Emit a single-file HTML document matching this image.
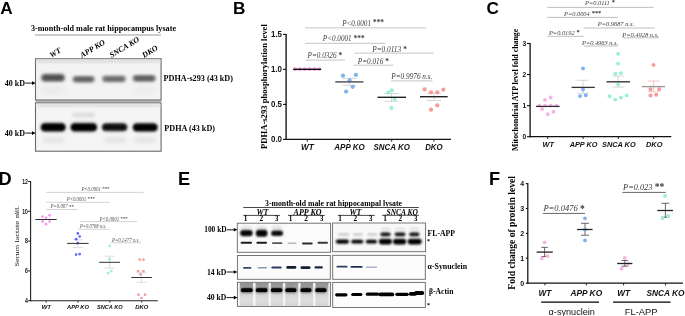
<!DOCTYPE html>
<html><head><meta charset="utf-8"><style>
html,body{margin:0;padding:0;background:#fff;}
body{width:685px;height:316px;overflow:hidden;font-family:"Liberation Sans", sans-serif;}
svg{display:block;will-change:transform;}
</style></head><body>
<svg width="685" height="316" viewBox="0 0 685 316">
<defs><filter id="b1" x="-50%" y="-100%" width="200%" height="300%"><feGaussianBlur stdDeviation="0.1"/></filter><filter id="b2" x="-50%" y="-100%" width="200%" height="300%"><feGaussianBlur stdDeviation="0.2"/></filter><filter id="b3" x="-50%" y="-100%" width="200%" height="300%"><feGaussianBlur stdDeviation="0.3"/></filter><filter id="b4" x="-50%" y="-100%" width="200%" height="300%"><feGaussianBlur stdDeviation="0.4"/></filter><filter id="b5" x="-50%" y="-100%" width="200%" height="300%"><feGaussianBlur stdDeviation="0.5"/></filter><filter id="b6" x="-50%" y="-100%" width="200%" height="300%"><feGaussianBlur stdDeviation="0.6"/></filter><filter id="b7" x="-50%" y="-100%" width="200%" height="300%"><feGaussianBlur stdDeviation="0.7"/></filter><filter id="b8" x="-50%" y="-100%" width="200%" height="300%"><feGaussianBlur stdDeviation="0.8"/></filter><filter id="b9" x="-50%" y="-100%" width="200%" height="300%"><feGaussianBlur stdDeviation="0.9"/></filter><filter id="b10" x="-50%" y="-100%" width="200%" height="300%"><feGaussianBlur stdDeviation="1.0"/></filter><filter id="b11" x="-50%" y="-100%" width="200%" height="300%"><feGaussianBlur stdDeviation="1.1"/></filter><filter id="b12" x="-50%" y="-100%" width="200%" height="300%"><feGaussianBlur stdDeviation="1.2"/></filter><filter id="b13" x="-50%" y="-100%" width="200%" height="300%"><feGaussianBlur stdDeviation="1.3"/></filter><filter id="b14" x="-50%" y="-100%" width="200%" height="300%"><feGaussianBlur stdDeviation="1.4"/></filter><filter id="b15" x="-50%" y="-100%" width="200%" height="300%"><feGaussianBlur stdDeviation="1.5"/></filter><filter id="b16" x="-50%" y="-100%" width="200%" height="300%"><feGaussianBlur stdDeviation="1.6"/></filter><filter id="b17" x="-50%" y="-100%" width="200%" height="300%"><feGaussianBlur stdDeviation="1.7"/></filter><filter id="b18" x="-50%" y="-100%" width="200%" height="300%"><feGaussianBlur stdDeviation="1.8"/></filter><filter id="b19" x="-50%" y="-100%" width="200%" height="300%"><feGaussianBlur stdDeviation="1.9"/></filter><filter id="b20" x="-50%" y="-100%" width="200%" height="300%"><feGaussianBlur stdDeviation="2.0"/></filter><filter id="b21" x="-50%" y="-100%" width="200%" height="300%"><feGaussianBlur stdDeviation="2.1"/></filter><filter id="b22" x="-50%" y="-100%" width="200%" height="300%"><feGaussianBlur stdDeviation="2.2"/></filter><filter id="b23" x="-50%" y="-100%" width="200%" height="300%"><feGaussianBlur stdDeviation="2.3"/></filter><filter id="b24" x="-50%" y="-100%" width="200%" height="300%"><feGaussianBlur stdDeviation="2.4"/></filter><filter id="b25" x="-50%" y="-100%" width="200%" height="300%"><feGaussianBlur stdDeviation="2.5"/></filter><filter id="b26" x="-50%" y="-100%" width="200%" height="300%"><feGaussianBlur stdDeviation="2.6"/></filter><filter id="b27" x="-50%" y="-100%" width="200%" height="300%"><feGaussianBlur stdDeviation="2.7"/></filter><filter id="b28" x="-50%" y="-100%" width="200%" height="300%"><feGaussianBlur stdDeviation="2.8"/></filter><filter id="b29" x="-50%" y="-100%" width="200%" height="300%"><feGaussianBlur stdDeviation="2.9"/></filter><filter id="b30" x="-50%" y="-100%" width="200%" height="300%"><feGaussianBlur stdDeviation="3.0"/></filter><filter id="b31" x="-50%" y="-100%" width="200%" height="300%"><feGaussianBlur stdDeviation="3.1"/></filter><filter id="b32" x="-50%" y="-100%" width="200%" height="300%"><feGaussianBlur stdDeviation="3.2"/></filter><filter id="b33" x="-50%" y="-100%" width="200%" height="300%"><feGaussianBlur stdDeviation="3.3"/></filter><filter id="b34" x="-50%" y="-100%" width="200%" height="300%"><feGaussianBlur stdDeviation="3.4"/></filter><filter id="b35" x="-50%" y="-100%" width="200%" height="300%"><feGaussianBlur stdDeviation="3.5"/></filter><filter id="b36" x="-50%" y="-100%" width="200%" height="300%"><feGaussianBlur stdDeviation="3.6"/></filter><filter id="b37" x="-50%" y="-100%" width="200%" height="300%"><feGaussianBlur stdDeviation="3.7"/></filter><filter id="b38" x="-50%" y="-100%" width="200%" height="300%"><feGaussianBlur stdDeviation="3.8"/></filter><filter id="b39" x="-50%" y="-100%" width="200%" height="300%"><feGaussianBlur stdDeviation="3.9"/></filter></defs>
<rect width="685" height="316" fill="#fff"/>
<text x="0.17" y="13.5" font-family='"Liberation Sans", sans-serif' font-weight="bold" font-style="normal" font-size="17.2" fill="#000" >A</text>
<text x="31" y="30.8" font-family='"Liberation Serif", serif' font-weight="bold" font-style="normal" font-size="8.2" fill="#000" textLength="145" lengthAdjust="spacingAndGlyphs" >3-month-old male rat hippocampus lysate</text>
<line x1="35" y1="35" x2="161" y2="35" stroke="#999" stroke-width="1.2" />
<text transform="translate(51.4,57.9) rotate(-31)" font-family='"Liberation Serif", serif' font-weight="bold" font-style="italic" font-size="7.9" fill="#000" >WT</text>
<text transform="translate(82.0,57.9) rotate(-31)" font-family='"Liberation Serif", serif' font-weight="bold" font-style="italic" font-size="7.9" fill="#000" >APP KO</text>
<text transform="translate(111.4,57.9) rotate(-31)" font-family='"Liberation Serif", serif' font-weight="bold" font-style="italic" font-size="7.9" fill="#000" >SNCA KO</text>
<text transform="translate(144.0,57.9) rotate(-31)" font-family='"Liberation Serif", serif' font-weight="bold" font-style="italic" font-size="7.9" fill="#000" >DKO</text>
<rect x="35.5" y="100.2" width="125.6" height="2.6" fill="#b4b4b4"/>
<rect x="35.5" y="58.7" width="125.6" height="41.3" fill="#f3f3f3" stroke="#6a6a6a" stroke-width="1.1" />
<rect x="35.5" y="102.9" width="125.6" height="48.3" fill="#f5f5f5" stroke="#6a6a6a" stroke-width="1.1" />
<rect x="36.5" y="59.7" width="123.6" height="3" fill="#dcdcdc" filter="url(#b10)"/>
<rect x="36.5" y="103.9" width="123.6" height="3" fill="#dedede" filter="url(#b10)"/>
<rect x="41.0" y="73.8" width="24.0" height="8.0" rx="4.0" fill="#8a8a8a" filter="url(#b16)"/>
<rect x="42.5" y="75.3" width="21.0" height="5.0" rx="2.5" fill="#4a4a4a" filter="url(#b15)"/>
<rect x="72.5" y="76.0" width="22.200000000000003" height="6.6" rx="3.3" fill="#999" filter="url(#b16)"/>
<rect x="74.0" y="77.3" width="19.200000000000003" height="4.0" rx="2.0" fill="#5a5a5a" filter="url(#b15)"/>
<rect x="102.0" y="75.60000000000001" width="24.0" height="6.6" rx="3.3" fill="#a0a0a0" filter="url(#b16)"/>
<rect x="103.5" y="76.9" width="21.0" height="4.0" rx="2.0" fill="#636363" filter="url(#b15)"/>
<rect x="132.6" y="74.89999999999999" width="23.200000000000017" height="6.8" rx="3.4" fill="#959595" filter="url(#b16)"/>
<rect x="134.0" y="76.2" width="20.400000000000006" height="4.2" rx="2.1" fill="#585858" filter="url(#b15)"/>
<rect x="42" y="86.0" width="22" height="8" rx="4.0" fill="#eaeaea" filter="url(#b25)"/>
<rect x="134" y="86.0" width="22" height="8" rx="4.0" fill="#ececec" filter="url(#b25)"/>
<rect x="40.6" y="122.7" width="25.199999999999996" height="9.0" rx="4.5" fill="#505050" filter="url(#b15)"/>
<rect x="41.6" y="124.0" width="23.199999999999996" height="6.4" rx="3.2" fill="#000" filter="url(#b10)"/>
<rect x="70.4" y="122.7" width="26.799999999999997" height="9.0" rx="4.5" fill="#505050" filter="url(#b15)"/>
<rect x="71.4" y="124.0" width="24.799999999999997" height="6.4" rx="3.2" fill="#000" filter="url(#b10)"/>
<rect x="101.8" y="123.0" width="25.60000000000001" height="8.4" rx="4.2" fill="#606060" filter="url(#b15)"/>
<rect x="102.8" y="124.3" width="23.60000000000001" height="5.8" rx="2.9" fill="#080808" filter="url(#b10)"/>
<rect x="132.6" y="123.0" width="25.200000000000017" height="8.8" rx="4.4" fill="#505050" filter="url(#b15)"/>
<rect x="133.6" y="124.30000000000001" width="23.200000000000017" height="6.2" rx="3.1" fill="#000" filter="url(#b10)"/>
<rect x="72" y="112.5" width="23" height="5" rx="2.5" fill="#dedede" filter="url(#b18)"/>
<rect x="42" y="137.5" width="22" height="5" rx="2.5" fill="#e2e2e2" filter="url(#b20)"/>
<rect x="104" y="137.5" width="22" height="5" rx="2.5" fill="#e0e0e0" filter="url(#b20)"/>
<rect x="134" y="137.5" width="22" height="5" rx="2.5" fill="#e0e0e0" filter="url(#b20)"/>
<text x="4.7" y="85.9" font-family='"Liberation Serif", serif' font-weight="bold" font-style="normal" font-size="7.8" fill="#000" textLength="20.3" lengthAdjust="spacingAndGlyphs" >40 kD</text>
<line x1="25.3" y1="83.1" x2="33" y2="83.1" stroke="#000" stroke-width="0.9" />
<path d="M32,81.2 L35.6,83.1 L32,85 Z" fill="#000"/>
<text x="4.7" y="135.8" font-family='"Liberation Serif", serif' font-weight="bold" font-style="normal" font-size="7.8" fill="#000" textLength="20.3" lengthAdjust="spacingAndGlyphs" >40 kD</text>
<line x1="25.3" y1="133.1" x2="33" y2="133.1" stroke="#000" stroke-width="0.9" />
<path d="M32,131.2 L35.6,133.1 L32,135 Z" fill="#000"/>
<text x="163.6" y="81.4" font-family='"Liberation Serif", serif' font-weight="bold" font-style="normal" font-size="8.1" fill="#000" textLength="69.4" lengthAdjust="spacingAndGlyphs" >PDHA-s293 (43 kD)</text>
<text x="164.3" y="131.1" font-family='"Liberation Serif", serif' font-weight="bold" font-style="normal" font-size="8.1" fill="#000" textLength="50.7" lengthAdjust="spacingAndGlyphs" >PDHA (43 kD)</text>
<text x="233.05" y="13.5" font-family='"Liberation Sans", sans-serif' font-weight="bold" font-style="normal" font-size="17.2" fill="#000" >B</text>
<text transform="translate(266.8,149) rotate(-90)" font-family='"Liberation Serif", serif' font-weight="bold" font-style="normal" font-size="8.4" fill="#000" textLength="124.8" lengthAdjust="spacingAndGlyphs" >PDHA-s293 phosphorylation level</text>
<line x1="286.1" y1="33.900000000000006" x2="286.1" y2="140.0" stroke="#111" stroke-width="1.35" />
<line x1="285.5" y1="139.4" x2="451" y2="139.4" stroke="#111" stroke-width="1.35" />
<line x1="283" y1="34.400000000000006" x2="286.1" y2="34.400000000000006" stroke="#111" stroke-width="1.1" />
<text x="282.0" y="37.400000000000006" font-family='"Liberation Sans", sans-serif' font-weight="bold" font-style="normal" font-size="8.9" fill="#111" textLength="11.0" lengthAdjust="spacingAndGlyphs" text-anchor="end" >1.5</text>
<line x1="283" y1="69.4" x2="286.1" y2="69.4" stroke="#111" stroke-width="1.1" />
<text x="282.0" y="72.4" font-family='"Liberation Sans", sans-serif' font-weight="bold" font-style="normal" font-size="8.9" fill="#111" textLength="11.0" lengthAdjust="spacingAndGlyphs" text-anchor="end" >1.0</text>
<line x1="283" y1="104.4" x2="286.1" y2="104.4" stroke="#111" stroke-width="1.1" />
<text x="282.0" y="107.4" font-family='"Liberation Sans", sans-serif' font-weight="bold" font-style="normal" font-size="8.9" fill="#111" textLength="11.0" lengthAdjust="spacingAndGlyphs" text-anchor="end" >0.5</text>
<line x1="283" y1="139.4" x2="286.1" y2="139.4" stroke="#111" stroke-width="1.1" />
<text x="282.0" y="142.4" font-family='"Liberation Sans", sans-serif' font-weight="bold" font-style="normal" font-size="8.9" fill="#111" textLength="11.0" lengthAdjust="spacingAndGlyphs" text-anchor="end" >0.0</text>
<line x1="307.3" y1="139.4" x2="307.3" y2="141.70000000000002" stroke="#222" stroke-width="1" />
<line x1="349.5" y1="139.4" x2="349.5" y2="141.70000000000002" stroke="#222" stroke-width="1" />
<line x1="391.7" y1="139.4" x2="391.7" y2="141.70000000000002" stroke="#222" stroke-width="1" />
<line x1="433.9" y1="139.4" x2="433.9" y2="141.70000000000002" stroke="#222" stroke-width="1" />
<text x="307.3" y="150.3" font-family='"Liberation Sans", sans-serif' font-weight="bold" font-style="italic" font-size="8.4" fill="#111" textLength="12.7" lengthAdjust="spacingAndGlyphs" text-anchor="middle" >WT</text>
<text x="349.5" y="150.3" font-family='"Liberation Sans", sans-serif' font-weight="bold" font-style="italic" font-size="8.4" fill="#111" textLength="30.4" lengthAdjust="spacingAndGlyphs" text-anchor="middle" >APP KO</text>
<text x="391.7" y="150.3" font-family='"Liberation Sans", sans-serif' font-weight="bold" font-style="italic" font-size="8.4" fill="#111" textLength="36.3" lengthAdjust="spacingAndGlyphs" text-anchor="middle" >SNCA KO</text>
<text x="433.9" y="150.3" font-family='"Liberation Sans", sans-serif' font-weight="bold" font-style="italic" font-size="8.4" fill="#111" textLength="17.4" lengthAdjust="spacingAndGlyphs" text-anchor="middle" >DKO</text>
<line x1="305.2" y1="27.9" x2="426.2" y2="27.9" stroke="#c4c4c4" stroke-width="1" />
<text x="342.2" y="25.6" font-family='"Liberation Serif", serif' font-style="italic" font-size="7.3" fill="#3a3a3a"><tspan textLength="28.8" lengthAdjust="spacingAndGlyphs">P&lt;0.0001</tspan><tspan dx="2" dy="-0.3" font-style="normal" font-weight="bold" font-size="7.3" fill="#333">***</tspan></text>
<line x1="305.2" y1="43.3" x2="385.3" y2="43.3" stroke="#c4c4c4" stroke-width="1" />
<text x="322.8" y="40.8" font-family='"Liberation Serif", serif' font-style="italic" font-size="7.3" fill="#3a3a3a"><tspan textLength="28.8" lengthAdjust="spacingAndGlyphs">P&lt;0.0001</tspan><tspan dx="2" dy="-0.3" font-style="normal" font-weight="bold" font-size="7.3" fill="#333">***</tspan></text>
<line x1="305.2" y1="60.1" x2="344.9" y2="60.1" stroke="#c4c4c4" stroke-width="1" />
<text x="307.5" y="58.2" font-family='"Liberation Serif", serif' font-style="italic" font-size="7.3" fill="#3a3a3a"><tspan textLength="29" lengthAdjust="spacingAndGlyphs">P=0.0326</tspan><tspan dx="2" dy="-0.3" font-style="normal" font-weight="bold" font-size="7.3" fill="#333">*</tspan></text>
<line x1="354.3" y1="53.1" x2="433.7" y2="53.1" stroke="#c4c4c4" stroke-width="1" />
<text x="372.2" y="51.9" font-family='"Liberation Serif", serif' font-style="italic" font-size="7.3" fill="#3a3a3a"><tspan textLength="29" lengthAdjust="spacingAndGlyphs">P=0.0113</tspan><tspan dx="2" dy="-0.3" font-style="normal" font-weight="bold" font-size="7.3" fill="#333">*</tspan></text>
<line x1="353.6" y1="65.2" x2="393.3" y2="65.2" stroke="#c4c4c4" stroke-width="1" />
<text x="357.8" y="64.0" font-family='"Liberation Serif", serif' font-style="italic" font-size="7.3" fill="#3a3a3a"><tspan textLength="25.5" lengthAdjust="spacingAndGlyphs">P=0.016</tspan><tspan dx="2" dy="-0.3" font-style="normal" font-weight="bold" font-size="7.3" fill="#333">*</tspan></text>
<line x1="391.2" y1="80.9" x2="432.5" y2="80.9" stroke="#c4c4c4" stroke-width="1" />
<text x="391.2" y="79.3" font-family='"Liberation Serif", serif' font-style="italic" font-size="7.3" fill="#3a3a3a"><tspan textLength="41.3" lengthAdjust="spacingAndGlyphs">P=0.9976 n.s.</tspan></text>
<circle cx="295.1" cy="69.2" r="2.1" fill="#f7b3e6"/>
<circle cx="299.9" cy="69.2" r="2.1" fill="#f7b3e6"/>
<circle cx="304.7" cy="69.2" r="2.1" fill="#f7b3e6"/>
<circle cx="309.6" cy="69.2" r="2.1" fill="#f7b3e6"/>
<circle cx="314.4" cy="69.2" r="2.1" fill="#f7b3e6"/>
<circle cx="319.2" cy="69.2" r="2.1" fill="#f7b3e6"/>
<line x1="293.2" y1="69.3" x2="321.1" y2="69.3" stroke="#000" stroke-width="1.3" />
<line x1="342.6" y1="78.4" x2="356.5" y2="78.4" stroke="#ccc" stroke-width="0.8" />
<line x1="342.6" y1="85.3" x2="356.5" y2="85.3" stroke="#ccc" stroke-width="0.8" />
<line x1="349.6" y1="78.4" x2="349.6" y2="85.3" stroke="#ccc" stroke-width="0.8" />
<circle cx="343" cy="75.7" r="2.1" fill="#7fb2f2"/>
<circle cx="355.9" cy="74.9" r="2.1" fill="#7fb2f2"/>
<circle cx="349.6" cy="80.3" r="2.1" fill="#7fb2f2"/>
<circle cx="352.7" cy="86.8" r="2.1" fill="#7fb2f2"/>
<circle cx="346.1" cy="91.6" r="2.1" fill="#7fb2f2"/>
<line x1="335.3" y1="81.9" x2="363.5" y2="81.9" stroke="#555" stroke-width="1.5" />
<line x1="384.5" y1="93.5" x2="398.5" y2="93.5" stroke="#ccc" stroke-width="0.8" />
<line x1="384.5" y1="101.3" x2="398.5" y2="101.3" stroke="#ccc" stroke-width="0.8" />
<line x1="391.5" y1="93.5" x2="391.5" y2="101.3" stroke="#ccc" stroke-width="0.8" />
<circle cx="388.2" cy="92.6" r="2.1" fill="#9bf0d2"/>
<circle cx="391.7" cy="90.4" r="2.1" fill="#9bf0d2"/>
<circle cx="394.6" cy="98.9" r="2.1" fill="#9bf0d2"/>
<circle cx="391.4" cy="107.8" r="2.1" fill="#9bf0d2"/>
<line x1="377.5" y1="97.3" x2="406" y2="97.3" stroke="#222" stroke-width="1.4" />
<line x1="427" y1="93.3" x2="441" y2="93.3" stroke="#ccc" stroke-width="0.8" />
<line x1="427" y1="100.4" x2="441" y2="100.4" stroke="#ccc" stroke-width="0.8" />
<line x1="434" y1="93.3" x2="434" y2="100.4" stroke="#ccc" stroke-width="0.8" />
<circle cx="424.6" cy="89.4" r="2.1" fill="#f79a9a"/>
<circle cx="431" cy="92.3" r="2.1" fill="#f79a9a"/>
<circle cx="437.3" cy="92.3" r="2.1" fill="#f79a9a"/>
<circle cx="443.3" cy="89.7" r="2.1" fill="#f79a9a"/>
<circle cx="437.3" cy="105.3" r="2.1" fill="#f79a9a"/>
<circle cx="431" cy="109.7" r="2.1" fill="#f79a9a"/>
<line x1="420" y1="96.7" x2="447.7" y2="96.7" stroke="#222" stroke-width="1.4" />
<text x="486.4" y="13.5" font-family='"Liberation Sans", sans-serif' font-weight="bold" font-style="normal" font-size="17.2" fill="#000" >C</text>
<text transform="translate(518.0,151) rotate(-90)" font-family='"Liberation Serif", serif' font-weight="bold" font-style="normal" font-size="7.9" fill="#000" textLength="122.2" lengthAdjust="spacingAndGlyphs" >Mitochondrial ATP level fold change</text>
<line x1="530.1" y1="42.98999999999998" x2="530.1" y2="137.29999999999998" stroke="#111" stroke-width="1.3" />
<line x1="529.5" y1="136.7" x2="671.3" y2="136.7" stroke="#111" stroke-width="1.3" />
<line x1="527" y1="43.48999999999998" x2="530.1" y2="43.48999999999998" stroke="#111" stroke-width="1.1" />
<text x="526.1" y="46.08999999999998" font-family='"Liberation Sans", sans-serif' font-weight="bold" font-style="normal" font-size="7.5" fill="#111" textLength="3.7" lengthAdjust="spacingAndGlyphs" text-anchor="end" >3</text>
<line x1="527" y1="74.55999999999999" x2="530.1" y2="74.55999999999999" stroke="#111" stroke-width="1.1" />
<text x="526.1" y="77.15999999999998" font-family='"Liberation Sans", sans-serif' font-weight="bold" font-style="normal" font-size="7.5" fill="#111" textLength="3.7" lengthAdjust="spacingAndGlyphs" text-anchor="end" >2</text>
<line x1="527" y1="105.63" x2="530.1" y2="105.63" stroke="#111" stroke-width="1.1" />
<text x="526.1" y="108.22999999999999" font-family='"Liberation Sans", sans-serif' font-weight="bold" font-style="normal" font-size="7.5" fill="#111" textLength="3.7" lengthAdjust="spacingAndGlyphs" text-anchor="end" >1</text>
<line x1="527" y1="136.7" x2="530.1" y2="136.7" stroke="#111" stroke-width="1.1" />
<text x="526.1" y="139.29999999999998" font-family='"Liberation Sans", sans-serif' font-weight="bold" font-style="normal" font-size="7.5" fill="#111" textLength="3.7" lengthAdjust="spacingAndGlyphs" text-anchor="end" >0</text>
<line x1="547.7" y1="136.7" x2="547.7" y2="139.0" stroke="#222" stroke-width="1" />
<line x1="583.1" y1="136.7" x2="583.1" y2="139.0" stroke="#222" stroke-width="1" />
<line x1="618.3" y1="136.7" x2="618.3" y2="139.0" stroke="#222" stroke-width="1" />
<line x1="653.7" y1="136.7" x2="653.7" y2="139.0" stroke="#222" stroke-width="1" />
<text x="548.2" y="147.0" font-family='"Liberation Sans", sans-serif' font-weight="bold" font-style="italic" font-size="6.9" fill="#111" textLength="11.4" lengthAdjust="spacingAndGlyphs" text-anchor="middle" >WT</text>
<text x="583.6" y="147.0" font-family='"Liberation Sans", sans-serif' font-weight="bold" font-style="italic" font-size="6.9" fill="#111" textLength="27.8" lengthAdjust="spacingAndGlyphs" text-anchor="middle" >APP KO</text>
<text x="618.8" y="147.0" font-family='"Liberation Sans", sans-serif' font-weight="bold" font-style="italic" font-size="6.9" fill="#111" textLength="33.6" lengthAdjust="spacingAndGlyphs" text-anchor="middle" >SNCA KO</text>
<text x="654.2" y="147.0" font-family='"Liberation Sans", sans-serif' font-weight="bold" font-style="italic" font-size="6.9" fill="#111" textLength="16.4" lengthAdjust="spacingAndGlyphs" text-anchor="middle" >DKO</text>
<line x1="547.3" y1="7.4" x2="653.8" y2="7.4" stroke="#b8b8b8" stroke-width="0.9" />
<text x="585.1" y="5.0" font-family='"Liberation Serif", serif' font-style="italic" font-size="6.4" fill="#3a3a3a"><tspan textLength="24.7" lengthAdjust="spacingAndGlyphs">P=0.0111</tspan><tspan dx="2" dy="-1.2" font-style="normal" font-weight="bold" font-size="6.4" fill="#333">*</tspan></text>
<line x1="547.3" y1="17.4" x2="618" y2="17.4" stroke="#b8b8b8" stroke-width="0.9" />
<text x="564.1" y="15.9" font-family='"Liberation Serif", serif' font-style="italic" font-size="6.4" fill="#3a3a3a"><tspan textLength="25.6" lengthAdjust="spacingAndGlyphs">P=0.0004</tspan><tspan dx="2" dy="-1.2" font-style="normal" font-weight="bold" font-size="6.4" fill="#333">***</tspan></text>
<line x1="583.8" y1="28.0" x2="654.7" y2="28.0" stroke="#b8b8b8" stroke-width="0.9" />
<text x="597.8" y="26.3" font-family='"Liberation Serif", serif' font-style="italic" font-size="6.4" fill="#3a3a3a"><tspan textLength="36.2" lengthAdjust="spacingAndGlyphs">P=0.9687 n.s.</tspan></text>
<line x1="547.3" y1="36.3" x2="583.8" y2="36.3" stroke="#b8b8b8" stroke-width="0.9" />
<text x="549" y="35.0" font-family='"Liberation Serif", serif' font-style="italic" font-size="6.4" fill="#3a3a3a"><tspan textLength="25.6" lengthAdjust="spacingAndGlyphs">P=0.0192</tspan><tspan dx="2" dy="-1.2" font-style="normal" font-weight="bold" font-size="6.4" fill="#333">*</tspan></text>
<line x1="583.8" y1="46.0" x2="618" y2="46.0" stroke="#b8b8b8" stroke-width="0.9" />
<text x="582" y="44.9" font-family='"Liberation Serif", serif' font-style="italic" font-size="6.4" fill="#3a3a3a"><tspan textLength="36" lengthAdjust="spacingAndGlyphs">P=0.4963 n.s.</tspan></text>
<line x1="622.3" y1="37.8" x2="658.7" y2="37.8" stroke="#b8b8b8" stroke-width="0.9" />
<text x="622.3" y="37.0" font-family='"Liberation Serif", serif' font-style="italic" font-size="6.4" fill="#3a3a3a"><tspan textLength="36.4" lengthAdjust="spacingAndGlyphs">P=0.4928 n.s.</tspan></text>
<circle cx="545" cy="99.9" r="1.95" fill="#f7b3e6"/>
<circle cx="550.7" cy="97.5" r="1.95" fill="#f7b3e6"/>
<circle cx="539.3" cy="105.6" r="1.95" fill="#f7b3e6"/>
<circle cx="545" cy="105.6" r="1.95" fill="#f7b3e6"/>
<circle cx="550.7" cy="105.6" r="1.95" fill="#f7b3e6"/>
<circle cx="556.4" cy="105.6" r="1.95" fill="#f7b3e6"/>
<circle cx="542.1" cy="109" r="1.95" fill="#f7b3e6"/>
<circle cx="553.5" cy="111.7" r="1.95" fill="#f7b3e6"/>
<circle cx="547.8" cy="114.2" r="1.95" fill="#f7b3e6"/>
<line x1="536" y1="106.4" x2="559.6" y2="106.4" stroke="#2a2a2a" stroke-width="1.2" />
<line x1="577.3" y1="80.3" x2="588.7" y2="80.3" stroke="#ccc" stroke-width="0.8" />
<line x1="577.3" y1="93.3" x2="588.7" y2="93.3" stroke="#ccc" stroke-width="0.8" />
<line x1="583" y1="80.3" x2="583" y2="93.3" stroke="#ccc" stroke-width="0.8" />
<circle cx="583" cy="68.4" r="1.95" fill="#7fb2f2"/>
<circle cx="583" cy="89.5" r="1.95" fill="#7fb2f2"/>
<circle cx="580.1" cy="96.1" r="1.95" fill="#7fb2f2"/>
<circle cx="585.8" cy="95.2" r="1.95" fill="#7fb2f2"/>
<line x1="571.6" y1="87.4" x2="594.8" y2="87.4" stroke="#333" stroke-width="1.3" />
<line x1="612.4" y1="76.1" x2="623.8000000000001" y2="76.1" stroke="#ccc" stroke-width="0.8" />
<line x1="612.4" y1="87.1" x2="623.8000000000001" y2="87.1" stroke="#ccc" stroke-width="0.8" />
<line x1="618.1" y1="76.1" x2="618.1" y2="87.1" stroke="#ccc" stroke-width="0.8" />
<circle cx="618.1" cy="53.7" r="1.95" fill="#9bf0d2"/>
<circle cx="618.1" cy="63.6" r="1.95" fill="#9bf0d2"/>
<circle cx="615.3" cy="73.8" r="1.95" fill="#9bf0d2"/>
<circle cx="621" cy="73.1" r="1.95" fill="#9bf0d2"/>
<circle cx="618.1" cy="84.5" r="1.95" fill="#9bf0d2"/>
<circle cx="609.6" cy="96.2" r="1.95" fill="#9bf0d2"/>
<circle cx="621" cy="97.5" r="1.95" fill="#9bf0d2"/>
<circle cx="626.7" cy="95.4" r="1.95" fill="#9bf0d2"/>
<circle cx="615.3" cy="99.6" r="1.95" fill="#9bf0d2"/>
<line x1="606.5" y1="81.8" x2="630" y2="81.8" stroke="#444" stroke-width="1.5" />
<line x1="648.0" y1="81" x2="659.4000000000001" y2="81" stroke="#f3b8b8" stroke-width="0.8" />
<line x1="648.0" y1="91.7" x2="659.4000000000001" y2="91.7" stroke="#f3b8b8" stroke-width="0.8" />
<line x1="653.7" y1="81" x2="653.7" y2="91.7" stroke="#f3b8b8" stroke-width="0.8" />
<circle cx="653.5" cy="64.9" r="1.95" fill="#f79a9a"/>
<circle cx="650.5" cy="89.2" r="1.95" fill="#f79a9a"/>
<circle cx="659.2" cy="89.2" r="1.95" fill="#f79a9a"/>
<circle cx="650.5" cy="95.5" r="1.95" fill="#f79a9a"/>
<circle cx="656.2" cy="94.8" r="1.95" fill="#f79a9a"/>
<line x1="641.7" y1="86.6" x2="665.1" y2="86.6" stroke="#999" stroke-width="1.4" />
<text x="-1.4" y="184.8" font-family='"Liberation Sans", sans-serif' font-weight="bold" font-style="normal" font-size="18.2" fill="#000" >D</text>
<text transform="translate(19.3,266.5) rotate(-90)" font-family='"Liberation Serif", serif' font-weight="normal" font-style="normal" font-size="6.4" fill="#111" textLength="45.5" lengthAdjust="spacingAndGlyphs" >Serum lactate</text>
<text transform="translate(19.3,217.7) rotate(-90)" font-family='"Liberation Serif", serif' font-weight="normal" font-style="normal" font-size="6.4" fill="#111" textLength="11.5" lengthAdjust="spacingAndGlyphs" >mM/L</text>
<line x1="30.6" y1="181.0" x2="30.6" y2="301.2" stroke="#222" stroke-width="1.1" />
<line x1="30.1" y1="300.7" x2="157.8" y2="300.7" stroke="#222" stroke-width="1.1" />
<line x1="28" y1="181.5" x2="30.6" y2="181.5" stroke="#222" stroke-width="1" />
<text x="27.8" y="183.7" font-family='"Liberation Sans", sans-serif' font-weight="bold" font-style="normal" font-size="6.5" fill="#111" textLength="5.6" lengthAdjust="spacingAndGlyphs" text-anchor="end" >12</text>
<line x1="28" y1="211.29999999999998" x2="30.6" y2="211.29999999999998" stroke="#222" stroke-width="1" />
<text x="27.8" y="213.49999999999997" font-family='"Liberation Sans", sans-serif' font-weight="bold" font-style="normal" font-size="6.5" fill="#111" textLength="5.6" lengthAdjust="spacingAndGlyphs" text-anchor="end" >10</text>
<line x1="28" y1="241.1" x2="30.6" y2="241.1" stroke="#222" stroke-width="1" />
<text x="27.8" y="243.29999999999998" font-family='"Liberation Sans", sans-serif' font-weight="bold" font-style="normal" font-size="6.5" fill="#111" textLength="2.9" lengthAdjust="spacingAndGlyphs" text-anchor="end" >8</text>
<line x1="28" y1="270.9" x2="30.6" y2="270.9" stroke="#222" stroke-width="1" />
<text x="27.8" y="273.09999999999997" font-family='"Liberation Sans", sans-serif' font-weight="bold" font-style="normal" font-size="6.5" fill="#111" textLength="2.9" lengthAdjust="spacingAndGlyphs" text-anchor="end" >6</text>
<line x1="28" y1="300.7" x2="30.6" y2="300.7" stroke="#222" stroke-width="1" />
<text x="27.8" y="302.9" font-family='"Liberation Sans", sans-serif' font-weight="bold" font-style="normal" font-size="6.5" fill="#111" textLength="2.9" lengthAdjust="spacingAndGlyphs" text-anchor="end" >4</text>
<line x1="46.2" y1="300.7" x2="46.2" y2="302.7" stroke="#333" stroke-width="0.9" />
<line x1="78.0" y1="300.7" x2="78.0" y2="302.7" stroke="#333" stroke-width="0.9" />
<line x1="109.8" y1="300.7" x2="109.8" y2="302.7" stroke="#333" stroke-width="0.9" />
<line x1="141.7" y1="300.7" x2="141.7" y2="302.7" stroke="#333" stroke-width="0.9" />
<text x="46.2" y="308.6" font-family='"Liberation Sans", sans-serif' font-weight="bold" font-style="italic" font-size="5.7" fill="#111" textLength="9.6" lengthAdjust="spacingAndGlyphs" text-anchor="middle" >WT</text>
<text x="78.0" y="308.6" font-family='"Liberation Sans", sans-serif' font-weight="bold" font-style="italic" font-size="5.7" fill="#111" textLength="21.8" lengthAdjust="spacingAndGlyphs" text-anchor="middle" >APP KO</text>
<text x="109.8" y="308.6" font-family='"Liberation Sans", sans-serif' font-weight="bold" font-style="italic" font-size="5.7" fill="#111" textLength="25.8" lengthAdjust="spacingAndGlyphs" text-anchor="middle" >SNCA KO</text>
<text x="141.7" y="308.6" font-family='"Liberation Sans", sans-serif' font-weight="bold" font-style="italic" font-size="5.7" fill="#111" textLength="13.1" lengthAdjust="spacingAndGlyphs" text-anchor="middle" >DKO</text>
<line x1="46.3" y1="192.4" x2="143.6" y2="192.4" stroke="#c8c8c8" stroke-width="0.8" />
<text x="81.4" y="191.0" font-family='"Liberation Serif", serif' font-style="italic" font-size="5.3" fill="#505050"><tspan textLength="19.5" lengthAdjust="spacingAndGlyphs">P&lt;0.0001</tspan><tspan dx="1.4" dy="-0.7" font-style="normal" font-weight="bold" font-size="4.8" fill="#333">***</tspan></text>
<line x1="46.3" y1="202.3" x2="109.8" y2="202.3" stroke="#c8c8c8" stroke-width="0.8" />
<text x="66.7" y="200.6" font-family='"Liberation Serif", serif' font-style="italic" font-size="5.3" fill="#505050"><tspan textLength="19.5" lengthAdjust="spacingAndGlyphs">P&lt;0.0001</tspan><tspan dx="1.4" dy="-0.7" font-style="normal" font-weight="bold" font-size="4.8" fill="#333">***</tspan></text>
<line x1="46.3" y1="209.5" x2="77.8" y2="209.5" stroke="#c8c8c8" stroke-width="0.8" />
<text x="50.6" y="208.2" font-family='"Liberation Serif", serif' font-style="italic" font-size="5.3" fill="#505050"><tspan textLength="17" lengthAdjust="spacingAndGlyphs">P=0.007</tspan><tspan dx="1.4" dy="-0.7" font-style="normal" font-weight="bold" font-size="4.8" fill="#333">**</tspan></text>
<line x1="80.4" y1="221.6" x2="137" y2="221.6" stroke="#c8c8c8" stroke-width="0.8" />
<text x="99.6" y="220.6" font-family='"Liberation Serif", serif' font-style="italic" font-size="5.3" fill="#505050"><tspan textLength="19.5" lengthAdjust="spacingAndGlyphs">P&lt;0.0001</tspan><tspan dx="1.4" dy="-0.7" font-style="normal" font-weight="bold" font-size="4.8" fill="#333">***</tspan></text>
<line x1="78" y1="229.3" x2="109.9" y2="229.3" stroke="#c8c8c8" stroke-width="0.8" />
<text x="80" y="228.0" font-family='"Liberation Serif", serif' font-style="italic" font-size="5.3" fill="#505050"><tspan textLength="26.2" lengthAdjust="spacingAndGlyphs">P=0.0768 n.s.</tspan></text>
<line x1="110.6" y1="242.8" x2="141" y2="242.8" stroke="#c8c8c8" stroke-width="0.8" />
<text x="111.9" y="241.9" font-family='"Liberation Serif", serif' font-style="italic" font-size="5.3" fill="#505050"><tspan textLength="27.8" lengthAdjust="spacingAndGlyphs">P=0.1477 n.s.</tspan></text>
<circle cx="42.5" cy="216.5" r="1.35" fill="#f59af0"/>
<circle cx="49.6" cy="215.3" r="1.35" fill="#f59af0"/>
<circle cx="46" cy="217.8" r="1.35" fill="#f59af0"/>
<circle cx="42.5" cy="221.4" r="1.35" fill="#f59af0"/>
<circle cx="49.6" cy="221.4" r="1.35" fill="#f59af0"/>
<circle cx="46" cy="224.2" r="1.35" fill="#f59af0"/>
<line x1="35.4" y1="219.5" x2="56.7" y2="219.5" stroke="#333" stroke-width="1" />
<line x1="72.6" y1="239.7" x2="83.0" y2="239.7" stroke="#d8d8d8" stroke-width="0.7" />
<line x1="72.6" y1="247.5" x2="83.0" y2="247.5" stroke="#d8d8d8" stroke-width="0.7" />
<line x1="77.8" y1="239.7" x2="77.8" y2="247.5" stroke="#d8d8d8" stroke-width="0.7" />
<circle cx="77.8" cy="233.4" r="1.35" fill="#6464f5"/>
<circle cx="79.7" cy="236.5" r="1.35" fill="#6464f5"/>
<circle cx="76.1" cy="239.2" r="1.35" fill="#6464f5"/>
<circle cx="77.8" cy="243.2" r="1.35" fill="#6464f5"/>
<circle cx="76.1" cy="254.6" r="1.35" fill="#6464f5"/>
<circle cx="79.7" cy="254.1" r="1.35" fill="#6464f5"/>
<line x1="67.1" y1="243.4" x2="88.6" y2="243.4" stroke="#333" stroke-width="1" />
<line x1="104.39999999999999" y1="256.2" x2="114.8" y2="256.2" stroke="#d0d0d0" stroke-width="0.7" />
<line x1="104.39999999999999" y1="268.1" x2="114.8" y2="268.1" stroke="#d0d0d0" stroke-width="0.7" />
<line x1="109.6" y1="256.2" x2="109.6" y2="268.1" stroke="#d0d0d0" stroke-width="0.7" />
<circle cx="109.6" cy="245.8" r="1.35" fill="#9bf0d2"/>
<circle cx="109.6" cy="259.2" r="1.35" fill="#9bf0d2"/>
<circle cx="111.4" cy="271.1" r="1.35" fill="#9bf0d2"/>
<circle cx="108.1" cy="273.2" r="1.35" fill="#9bf0d2"/>
<line x1="99.2" y1="262.3" x2="120" y2="262.3" stroke="#333" stroke-width="1" />
<line x1="136.4" y1="272.7" x2="146.79999999999998" y2="272.7" stroke="#d0d0d0" stroke-width="0.7" />
<line x1="136.4" y1="282.3" x2="146.79999999999998" y2="282.3" stroke="#d0d0d0" stroke-width="0.7" />
<line x1="141.6" y1="272.7" x2="141.6" y2="282.3" stroke="#d0d0d0" stroke-width="0.7" />
<circle cx="139.7" cy="259.7" r="1.35" fill="#f79a9a"/>
<circle cx="143.5" cy="259.7" r="1.35" fill="#f79a9a"/>
<circle cx="138" cy="271.1" r="1.35" fill="#f79a9a"/>
<circle cx="143.5" cy="271.1" r="1.35" fill="#f79a9a"/>
<circle cx="140.5" cy="274.4" r="1.35" fill="#f79a9a"/>
<circle cx="138.5" cy="294.7" r="1.35" fill="#f79a9a"/>
<circle cx="145" cy="294.7" r="1.35" fill="#f79a9a"/>
<circle cx="141.5" cy="298" r="1.35" fill="#f79a9a"/>
<line x1="131.4" y1="277.5" x2="151.9" y2="277.5" stroke="#333" stroke-width="1" />
<text x="178.0" y="184.8" font-family='"Liberation Sans", sans-serif' font-weight="bold" font-style="normal" font-size="18.2" fill="#000" >E</text>
<text x="265" y="205.5" font-family='"Liberation Serif", serif' font-weight="bold" font-style="normal" font-size="7.9" fill="#000" textLength="137" lengthAdjust="spacingAndGlyphs" >3-month-old male rat hippocampal lysate</text>
<line x1="243.3" y1="207.5" x2="418.8" y2="207.5" stroke="#333" stroke-width="0.9" />
<text x="256.4" y="214.8" font-family='"Liberation Serif", serif' font-weight="bold" font-style="italic" font-size="7.5" fill="#000" textLength="11.9" lengthAdjust="spacingAndGlyphs" >WT</text>
<line x1="243.3" y1="215.4" x2="280" y2="215.4" stroke="#333" stroke-width="0.9" />
<text x="293.6" y="214.8" font-family='"Liberation Serif", serif' font-weight="bold" font-style="italic" font-size="7.5" fill="#000" textLength="27.9" lengthAdjust="spacingAndGlyphs" >APP KO</text>
<line x1="288" y1="215.4" x2="324.8" y2="215.4" stroke="#333" stroke-width="0.9" />
<text x="349.5" y="214.8" font-family='"Liberation Serif", serif' font-weight="bold" font-style="italic" font-size="7.5" fill="#000" textLength="11.9" lengthAdjust="spacingAndGlyphs" >WT</text>
<line x1="337.9" y1="215.4" x2="374.8" y2="215.4" stroke="#333" stroke-width="0.9" />
<text x="386.5" y="214.8" font-family='"Liberation Serif", serif' font-weight="bold" font-style="italic" font-size="7.5" fill="#000" textLength="31.5" lengthAdjust="spacingAndGlyphs" >SNCA KO</text>
<line x1="382" y1="215.3" x2="418.8" y2="215.3" stroke="#333" stroke-width="0.9" />
<text x="245.6" y="220.7" font-family='"Liberation Serif", serif' font-weight="bold" font-style="normal" font-size="7.3" fill="#000" text-anchor="middle" >1</text>
<text x="261.3" y="220.7" font-family='"Liberation Serif", serif' font-weight="bold" font-style="normal" font-size="7.3" fill="#000" text-anchor="middle" >2</text>
<text x="276.6" y="220.7" font-family='"Liberation Serif", serif' font-weight="bold" font-style="normal" font-size="7.3" fill="#000" text-anchor="middle" >3</text>
<text x="290.5" y="220.7" font-family='"Liberation Serif", serif' font-weight="bold" font-style="normal" font-size="7.3" fill="#000" text-anchor="middle" >1</text>
<text x="306" y="220.7" font-family='"Liberation Serif", serif' font-weight="bold" font-style="normal" font-size="7.3" fill="#000" text-anchor="middle" >2</text>
<text x="321.5" y="220.7" font-family='"Liberation Serif", serif' font-weight="bold" font-style="normal" font-size="7.3" fill="#000" text-anchor="middle" >3</text>
<text x="340.2" y="220.7" font-family='"Liberation Serif", serif' font-weight="bold" font-style="normal" font-size="7.3" fill="#000" text-anchor="middle" >1</text>
<text x="355.4" y="220.7" font-family='"Liberation Serif", serif' font-weight="bold" font-style="normal" font-size="7.3" fill="#000" text-anchor="middle" >2</text>
<text x="370.6" y="220.7" font-family='"Liberation Serif", serif' font-weight="bold" font-style="normal" font-size="7.3" fill="#000" text-anchor="middle" >3</text>
<text x="385.2" y="220.7" font-family='"Liberation Serif", serif' font-weight="bold" font-style="normal" font-size="7.3" fill="#000" text-anchor="middle" >1</text>
<text x="400.4" y="220.7" font-family='"Liberation Serif", serif' font-weight="bold" font-style="normal" font-size="7.3" fill="#000" text-anchor="middle" >2</text>
<text x="415.6" y="220.7" font-family='"Liberation Serif", serif' font-weight="bold" font-style="normal" font-size="7.3" fill="#000" text-anchor="middle" >3</text>
<rect x="237.3" y="223.2" width="93.3" height="29.1" fill="#fbfbfb" stroke="#666" stroke-width="0.9" />
<rect x="332.6" y="223.0" width="93.0" height="28.7" fill="#f9f9f9" stroke="#666" stroke-width="0.9" />
<rect x="237.4" y="255.5" width="92.9" height="23.8" fill="#fbfbfb" stroke="#666" stroke-width="0.9" />
<rect x="332.7" y="255.3" width="92.6" height="24.0" fill="#fcfcfd" stroke="#666" stroke-width="0.9" />
<rect x="237.4" y="282.3" width="93.0" height="24.1" fill="#f4f4f4" stroke="#666" stroke-width="0.9" />
<rect x="332.7" y="282.4" width="92.6" height="25.1" fill="#fdfdfd" stroke="#666" stroke-width="0.9" />
<rect x="240.6" y="225.75" width="11.599999999999994" height="4.5" rx="2.25" fill="#e4e4e4" filter="url(#b14)"/>
<rect x="256.3" y="225.75" width="10.699999999999989" height="4.5" rx="2.25" fill="#e4e4e4" filter="url(#b14)"/>
<rect x="271.5" y="225.75" width="11.100000000000023" height="4.5" rx="2.25" fill="#e4e4e4" filter="url(#b14)"/>
<rect x="240.4" y="229.9" width="12.0" height="6.4" rx="2.4" fill="#444" filter="url(#b12)"/>
<rect x="256.1" y="229.8" width="11.099999999999966" height="7.0" rx="2.4" fill="#444" filter="url(#b12)"/>
<rect x="271.3" y="230.39999999999998" width="11.5" height="5.6" rx="2.2" fill="#555" filter="url(#b12)"/>
<rect x="240.8" y="230.9" width="11.199999999999989" height="4.4" rx="1.8" fill="#000" filter="url(#b8)"/>
<rect x="256.5" y="230.8" width="10.300000000000011" height="5.0" rx="1.8" fill="#000" filter="url(#b8)"/>
<rect x="271.7" y="231.39999999999998" width="10.699999999999989" height="3.6" rx="1.6" fill="#000" filter="url(#b8)"/>
<rect x="240.6" y="241.7" width="11.400000000000006" height="2.0" rx="1.0" fill="#1a1a1a" filter="url(#b7)"/>
<rect x="256.4" y="241.8" width="10.600000000000023" height="2.0" rx="1.0" fill="#1a1a1a" filter="url(#b7)"/>
<rect x="272" y="242.29999999999998" width="10.399999999999977" height="1.8" rx="0.9" fill="#555" filter="url(#b7)"/>
<rect x="287.5" y="242.39999999999998" width="9.100000000000023" height="1.6" rx="0.8" fill="#b8b8b8" filter="url(#b7)"/>
<rect x="302" y="242.4" width="10.699999999999989" height="2.0" rx="1.0" fill="#2a2a2a" filter="url(#b7)"/>
<rect x="317.5" y="241.8" width="10.5" height="2.0" rx="1.0" fill="#383838" filter="url(#b7)"/>
<rect x="338" y="232.9" width="11.300000000000011" height="3.0" rx="1.5" fill="#d0d0d0" filter="url(#b10)"/>
<rect x="353" y="232.9" width="10" height="3.0" rx="1.5" fill="#d0d0d0" filter="url(#b10)"/>
<rect x="367" y="232.9" width="10.199999999999989" height="3.0" rx="1.5" fill="#d0d0d0" filter="url(#b10)"/>
<rect x="380.4" y="227.5" width="10.200000000000045" height="3" rx="1.5" fill="#e4e4e4" filter="url(#b12)"/>
<rect x="380.4" y="232.4" width="10.200000000000045" height="3.8" rx="1.9" fill="#0a0a0a" filter="url(#b9)"/>
<rect x="394.7" y="227.5" width="10.699999999999989" height="3" rx="1.5" fill="#e4e4e4" filter="url(#b12)"/>
<rect x="394.7" y="232.4" width="10.699999999999989" height="3.8" rx="1.9" fill="#0a0a0a" filter="url(#b9)"/>
<rect x="409.3" y="227.5" width="10.099999999999966" height="3" rx="1.5" fill="#e4e4e4" filter="url(#b12)"/>
<rect x="409.3" y="232.4" width="10.099999999999966" height="3.8" rx="1.9" fill="#0a0a0a" filter="url(#b9)"/>
<rect x="335.8" y="239.5" width="13.199999999999989" height="4.2" rx="2.1" fill="#000" filter="url(#b9)"/>
<rect x="351.2" y="239.7" width="12.100000000000023" height="3.8" rx="1.9" fill="#000" filter="url(#b9)"/>
<rect x="365.8" y="239.7" width="11.199999999999989" height="3.8" rx="1.9" fill="#000" filter="url(#b9)"/>
<rect x="378.9" y="238.79999999999998" width="13.100000000000023" height="5.6" rx="2.8" fill="#000" filter="url(#b9)"/>
<rect x="393" y="238.79999999999998" width="13.199999999999989" height="5.6" rx="2.8" fill="#000" filter="url(#b9)"/>
<rect x="407.7" y="238.79999999999998" width="14.0" height="5.6" rx="2.8" fill="#000" filter="url(#b9)"/>
<rect x="243" y="266.95" width="8.400000000000006" height="1.7" rx="0.85" fill="#34466e" filter="url(#b7)"/>
<rect x="257.7" y="267.05" width="9.300000000000011" height="1.5" rx="0.75" fill="#8898b8" filter="url(#b7)"/>
<rect x="271.3" y="266.6" width="10.399999999999977" height="2.0" rx="1.0" fill="#2a3a5e" filter="url(#b7)"/>
<rect x="286.3" y="266.09999999999997" width="10.0" height="2.6" rx="1.3" fill="#121c34" filter="url(#b7)"/>
<rect x="300.5" y="266.3" width="10.0" height="2.6" rx="1.3" fill="#121c34" filter="url(#b7)"/>
<rect x="314.5" y="266.29999999999995" width="8.399999999999977" height="2.2" rx="1.1" fill="#1c2842" filter="url(#b7)"/>
<rect x="336.5" y="265.8" width="11.100000000000023" height="1.8" rx="0.9" fill="#2c3c66" filter="url(#b7)"/>
<rect x="350.5" y="266.0" width="12.100000000000023" height="1.8" rx="0.9" fill="#1f2d55" filter="url(#b7)"/>
<rect x="365.8" y="266.45" width="11.399999999999977" height="1.5" rx="0.75" fill="#a8b4cf" filter="url(#b7)"/>
<linearGradient id="lane" x1="0" y1="0" x2="0" y2="1"><stop offset="0" stop-color="#8c8c8c"/><stop offset="0.18" stop-color="#a6a6a6"/><stop offset="0.42" stop-color="#d2d2d2"/><stop offset="0.8" stop-color="#dedede"/><stop offset="1" stop-color="#d0d0d0"/></linearGradient>
<rect x="239.8" y="283" width="13.199999999999989" height="22.8" fill="url(#lane)" filter="url(#b4)"/>
<rect x="255.6" y="283" width="13.000000000000028" height="22.8" fill="url(#lane)" filter="url(#b4)"/>
<rect x="270.9" y="283" width="12.0" height="22.8" fill="url(#lane)" filter="url(#b4)"/>
<rect x="285.3" y="283" width="12.899999999999977" height="22.8" fill="url(#lane)" filter="url(#b4)"/>
<rect x="300.5" y="283" width="12.5" height="22.8" fill="url(#lane)" filter="url(#b4)"/>
<rect x="315.5" y="283" width="12.899999999999977" height="22.8" fill="url(#lane)" filter="url(#b4)"/>
<rect x="240.7" y="287.5" width="12.200000000000017" height="5.2" rx="2.2" fill="#555" filter="url(#b11)"/>
<rect x="241.0" y="288.20000000000005" width="11.599999999999994" height="3.8" rx="1.6" fill="#000" filter="url(#b7)"/>
<rect x="255.6" y="287.5" width="12.099999999999994" height="5.2" rx="2.2" fill="#555" filter="url(#b11)"/>
<rect x="255.9" y="288.20000000000005" width="11.499999999999972" height="3.8" rx="1.6" fill="#000" filter="url(#b7)"/>
<rect x="270.7" y="287.5" width="11.800000000000011" height="5.2" rx="2.2" fill="#555" filter="url(#b11)"/>
<rect x="271.0" y="288.20000000000005" width="11.199999999999989" height="3.8" rx="1.6" fill="#000" filter="url(#b7)"/>
<rect x="285.09999999999997" y="287.5" width="11.600000000000023" height="5.2" rx="2.2" fill="#555" filter="url(#b11)"/>
<rect x="285.4" y="288.20000000000005" width="11.0" height="3.8" rx="1.6" fill="#000" filter="url(#b7)"/>
<rect x="300.3" y="287.5" width="11.399999999999977" height="5.2" rx="2.2" fill="#555" filter="url(#b11)"/>
<rect x="300.6" y="288.20000000000005" width="10.799999999999955" height="3.8" rx="1.6" fill="#000" filter="url(#b7)"/>
<rect x="315.09999999999997" y="287.5" width="11.600000000000023" height="5.2" rx="2.2" fill="#555" filter="url(#b11)"/>
<rect x="315.4" y="288.20000000000005" width="11.0" height="3.8" rx="1.6" fill="#000" filter="url(#b7)"/>
<rect x="335.1" y="293.2" width="12.399999999999977" height="3.2" rx="1.6" fill="#000" filter="url(#b7)"/>
<rect x="351.2" y="293.0" width="11.199999999999989" height="3.0" rx="1.5" fill="#000" filter="url(#b7)"/>
<rect x="365.8" y="292.59999999999997" width="13.399999999999977" height="3.2" rx="1.6" fill="#000" filter="url(#b7)"/>
<rect x="378.6" y="292.5" width="15.599999999999966" height="3.8" rx="1.9" fill="#000" filter="url(#b7)"/>
<rect x="395.3" y="292.7" width="13.5" height="3.2" rx="1.6" fill="#000" filter="url(#b7)"/>
<rect x="408.8" y="292.09999999999997" width="8.199999999999989" height="3.6" rx="1.8" fill="#000" filter="url(#b7)"/>
<rect x="414" y="290.9" width="10.199999999999989" height="4.2" rx="2.1" fill="#000" filter="url(#b7)"/>
<text x="204.2" y="232.4" font-family='"Liberation Serif", serif' font-weight="bold" font-style="normal" font-size="7.6" fill="#000" textLength="22.4" lengthAdjust="spacingAndGlyphs" >100 kD</text>
<line x1="226.8" y1="229.8" x2="234.4" y2="229.8" stroke="#000" stroke-width="0.9" />
<path d="M233.8,228.0 L237.4,229.8 L233.8,231.60000000000002 Z" fill="#000"/>
<text x="206.9" y="274.6" font-family='"Liberation Serif", serif' font-weight="bold" font-style="normal" font-size="7.6" fill="#000" textLength="19.4" lengthAdjust="spacingAndGlyphs" >14 kD</text>
<line x1="226.5" y1="272" x2="234.4" y2="272" stroke="#000" stroke-width="0.9" />
<path d="M233.8,270.2 L237.4,272 L233.8,273.8 Z" fill="#000"/>
<text x="206.9" y="300.2" font-family='"Liberation Serif", serif' font-weight="bold" font-style="normal" font-size="7.6" fill="#000" textLength="19.4" lengthAdjust="spacingAndGlyphs" >40 kD</text>
<line x1="226.5" y1="297.6" x2="234.4" y2="297.6" stroke="#000" stroke-width="0.9" />
<path d="M233.8,295.8 L237.4,297.6 L233.8,299.40000000000003 Z" fill="#000"/>
<text x="427.6" y="236.4" font-family='"Liberation Serif", serif' font-weight="bold" font-style="normal" font-size="7.8" fill="#000" textLength="27.4" lengthAdjust="spacingAndGlyphs" >FL-APP</text>
<text x="427.0" y="243.0" font-family='"Liberation Serif", serif' font-weight="bold" font-style="normal" font-size="6" fill="#000" >*</text>
<text x="427.6" y="268.9" font-family='"Liberation Serif", serif' font-weight="bold" font-style="normal" font-size="7.8" fill="#000" textLength="39.5" lengthAdjust="spacingAndGlyphs" >α-Synuclein</text>
<text x="429.0" y="294.1" font-family='"Liberation Serif", serif' font-weight="bold" font-style="normal" font-size="7.8" fill="#000" textLength="24.4" lengthAdjust="spacingAndGlyphs" >β-Actin</text>
<text x="427.0" y="307.0" font-family='"Liberation Serif", serif' font-weight="bold" font-style="normal" font-size="6" fill="#000" >*</text>
<text x="488.9" y="184.8" font-family='"Liberation Sans", sans-serif' font-weight="bold" font-style="normal" font-size="18.2" fill="#000" >F</text>
<text transform="translate(515.3,289.7) rotate(-90)" font-family='"Liberation Serif", serif' font-weight="bold" font-style="normal" font-size="9.3" fill="#000" textLength="113.6" lengthAdjust="spacingAndGlyphs" >Fold change of protein level</text>
<line x1="527.8" y1="183.12" x2="527.8" y2="283.70000000000005" stroke="#111" stroke-width="1.25" />
<line x1="527.1999999999999" y1="283.1" x2="683" y2="283.1" stroke="#111" stroke-width="1.25" />
<line x1="525.8" y1="183.62" x2="527.8" y2="183.62" stroke="#111" stroke-width="1.1" />
<text x="524.2" y="186.02" font-family='"Liberation Sans", sans-serif' font-weight="bold" font-style="normal" font-size="7.0" fill="#111" text-anchor="end" >4</text>
<line x1="525.8" y1="208.49" x2="527.8" y2="208.49" stroke="#111" stroke-width="1.1" />
<text x="524.2" y="210.89000000000001" font-family='"Liberation Sans", sans-serif' font-weight="bold" font-style="normal" font-size="7.0" fill="#111" text-anchor="end" >3</text>
<line x1="525.8" y1="233.36" x2="527.8" y2="233.36" stroke="#111" stroke-width="1.1" />
<text x="524.2" y="235.76000000000002" font-family='"Liberation Sans", sans-serif' font-weight="bold" font-style="normal" font-size="7.0" fill="#111" text-anchor="end" >2</text>
<line x1="525.8" y1="258.23" x2="527.8" y2="258.23" stroke="#111" stroke-width="1.1" />
<text x="524.2" y="260.63" font-family='"Liberation Sans", sans-serif' font-weight="bold" font-style="normal" font-size="7.0" fill="#111" text-anchor="end" >1</text>
<line x1="525.8" y1="283.1" x2="527.8" y2="283.1" stroke="#111" stroke-width="1.1" />
<text x="524.2" y="285.5" font-family='"Liberation Sans", sans-serif' font-weight="bold" font-style="normal" font-size="7.0" fill="#111" text-anchor="end" >0</text>
<line x1="544.9" y1="283.1" x2="544.9" y2="285.40000000000003" stroke="#222" stroke-width="1" />
<line x1="586.3" y1="283.1" x2="586.3" y2="285.40000000000003" stroke="#222" stroke-width="1" />
<line x1="623.6" y1="283.1" x2="623.6" y2="285.40000000000003" stroke="#222" stroke-width="1" />
<line x1="665.5" y1="283.1" x2="665.5" y2="285.40000000000003" stroke="#222" stroke-width="1" />
<text x="544.9" y="295.5" font-family='"Liberation Sans", sans-serif' font-weight="bold" font-style="italic" font-size="8.3" fill="#111" textLength="12.8" lengthAdjust="spacingAndGlyphs" text-anchor="middle" >WT</text>
<text x="586.3" y="295.5" font-family='"Liberation Sans", sans-serif' font-weight="bold" font-style="italic" font-size="8.3" fill="#111" textLength="31.8" lengthAdjust="spacingAndGlyphs" text-anchor="middle" >APP KO</text>
<text x="623.6" y="295.5" font-family='"Liberation Sans", sans-serif' font-weight="bold" font-style="italic" font-size="8.3" fill="#111" textLength="12.8" lengthAdjust="spacingAndGlyphs" text-anchor="middle" >WT</text>
<text x="665.5" y="295.5" font-family='"Liberation Sans", sans-serif' font-weight="bold" font-style="italic" font-size="8.3" fill="#111" textLength="38" lengthAdjust="spacingAndGlyphs" text-anchor="middle" >SNCA KO</text>
<line x1="541.2" y1="302.2" x2="599" y2="302.2" stroke="#000" stroke-width="1.2" />
<line x1="613.1" y1="302.2" x2="670.6" y2="302.2" stroke="#000" stroke-width="1.2" />
<text x="548.6" y="314.5" font-family='"Liberation Sans", sans-serif' font-weight="normal" font-style="normal" font-size="9.4" fill="#111" textLength="46.3" lengthAdjust="spacingAndGlyphs" >α-synuclein</text>
<text x="624.8" y="314.5" font-family='"Liberation Sans", sans-serif' font-weight="normal" font-style="normal" font-size="9.4" fill="#111" textLength="32.7" lengthAdjust="spacingAndGlyphs" >FL-APP</text>
<text x="543.4" y="211.2" font-family='"Liberation Serif", serif' font-style="italic" font-size="8.4" fill="#333"><tspan textLength="34.3" lengthAdjust="spacingAndGlyphs">P=0.0476</tspan><tspan dx="2.2" dy="0.4" font-style="normal" font-weight="bold" font-size="9.5" fill="#333">*</tspan></text>
<line x1="542.9" y1="213.4" x2="585" y2="213.4" stroke="#555" stroke-width="0.9" />
<text x="623.1" y="189.6" font-family='"Liberation Serif", serif' font-style="italic" font-size="8.4" fill="#333"><tspan textLength="29.2" lengthAdjust="spacingAndGlyphs">P=0.023</tspan><tspan dx="2.5" dy="0.4" font-style="normal" font-weight="bold" font-size="9.5" fill="#333">**</tspan></text>
<line x1="622.4" y1="192.4" x2="665.8" y2="192.4" stroke="#555" stroke-width="0.9" />
<line x1="541.3000000000001" y1="247.4" x2="547.9" y2="247.4" stroke="#444" stroke-width="0.8" />
<line x1="541.3000000000001" y1="256.5" x2="547.9" y2="256.5" stroke="#444" stroke-width="0.8" />
<line x1="544.6" y1="247.4" x2="544.6" y2="256.5" stroke="#444" stroke-width="0.8" />
<circle cx="544.6" cy="242.3" r="1.9" fill="#f7b3e6"/>
<circle cx="541.8" cy="258.4" r="1.9" fill="#f7b3e6"/>
<circle cx="547.6" cy="256.1" r="1.9" fill="#f7b3e6"/>
<line x1="536.6" y1="252.1" x2="552.8" y2="252.1" stroke="#222" stroke-width="1.3" />
<line x1="581" y1="223.3" x2="589" y2="223.3" stroke="#444" stroke-width="0.8" />
<line x1="581" y1="235.2" x2="589" y2="235.2" stroke="#444" stroke-width="0.8" />
<line x1="585" y1="223.3" x2="585" y2="235.2" stroke="#444" stroke-width="0.8" />
<circle cx="585" cy="218.3" r="1.9" fill="#7fb2f2"/>
<circle cx="585" cy="229.5" r="1.9" fill="#7fb2f2"/>
<circle cx="585" cy="240.4" r="1.9" fill="#7fb2f2"/>
<line x1="577.1" y1="229.5" x2="592.6" y2="229.5" stroke="#222" stroke-width="1.3" />
<line x1="621.5" y1="260.5" x2="628.0999999999999" y2="260.5" stroke="#444" stroke-width="0.8" />
<line x1="621.5" y1="266.2" x2="628.0999999999999" y2="266.2" stroke="#444" stroke-width="0.8" />
<line x1="624.8" y1="260.5" x2="624.8" y2="266.2" stroke="#444" stroke-width="0.8" />
<circle cx="624.8" cy="258" r="1.9" fill="#f7b3e6"/>
<circle cx="621.6" cy="268.7" r="1.9" fill="#f7b3e6"/>
<circle cx="628.1" cy="263.8" r="1.9" fill="#f7b3e6"/>
<line x1="617.2" y1="263.5" x2="632.4" y2="263.5" stroke="#222" stroke-width="1.3" />
<line x1="661.4" y1="203.3" x2="669.4" y2="203.3" stroke="#444" stroke-width="0.8" />
<line x1="661.4" y1="217.2" x2="669.4" y2="217.2" stroke="#444" stroke-width="0.8" />
<line x1="665.4" y1="203.3" x2="665.4" y2="217.2" stroke="#444" stroke-width="0.8" />
<circle cx="665" cy="196" r="1.9" fill="#9bf0d2"/>
<circle cx="662.4" cy="218.2" r="1.9" fill="#9bf0d2"/>
<circle cx="668.2" cy="216" r="1.9" fill="#9bf0d2"/>
<line x1="657.3" y1="210.5" x2="673" y2="210.5" stroke="#222" stroke-width="1.3" />
</svg>
</body></html>
